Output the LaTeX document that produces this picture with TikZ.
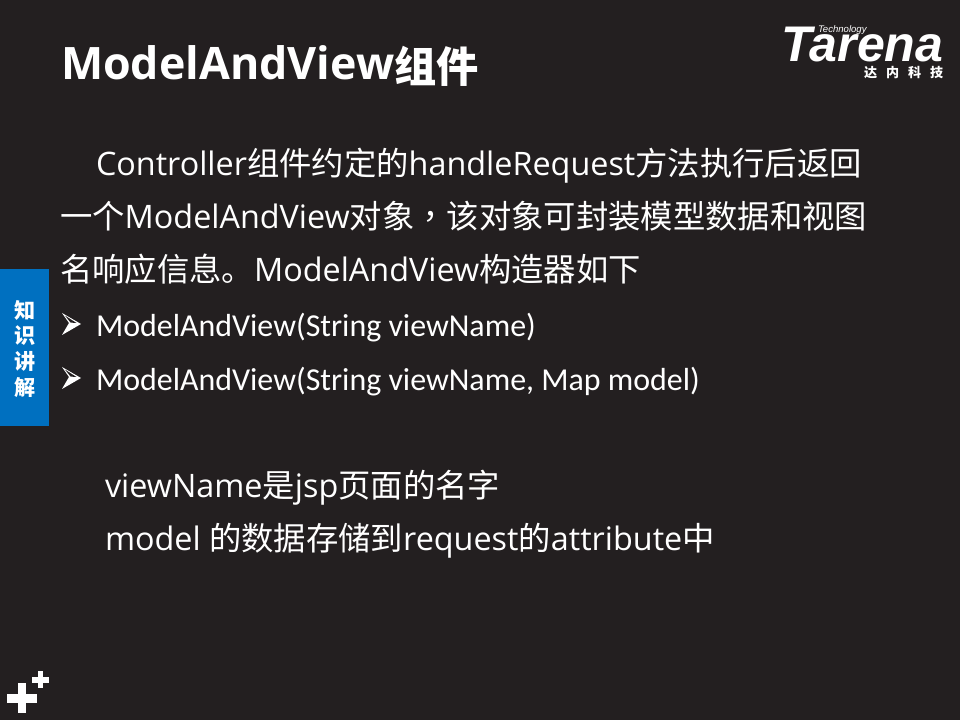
\documentclass[tikz,border=0pt]{standalone}
\usepackage{fontspec}
\setmainfont{Open Sans}
\newfontfamily\cjk{Noto Sans CJK SC}
\newfontfamily\cjkcomma{Noto Sans CJK TC}
\newfontfamily\bulletfont{Carlito}
\newfontfamily\logofont{Liberation Sans}
\newcommand{\zh}[1]{{\cjk #1}}
\definecolor{slidebg}{HTML}{231F20}
\definecolor{tabblue}{HTML}{0070C0}
\usetikzlibrary{positioning}

\begin{document}
\begin{tikzpicture}[
    x=0.025cm, y=-0.025cm,
    line/.style={anchor=base west, inner sep=0pt, outer sep=0pt, text=white},
    titleline/.style={line, font=\fontsize{31.8}{36}\selectfont\bfseries},
    bodyline/.style={line, font=\fontsize{23}{28}\selectfont},
    itemline/.style={line, font=\fontsize{22.7}{27}\bulletfont},
    tabtext/.style={inner sep=0pt, text=white, font=\fontsize{15}{17}\cjk\bfseries},
    plusbar/.style={fill=white, draw=none},
    itemmark/.pic={
        \fill[white] (0,0) -- (19,11) -- (0,22) -- (7,10) -- cycle;
        \fill[slidebg] (3,2.6) -- (14.5,10) -- (8.6,9.6) -- cycle;
    }
]
    \fill[slidebg] (0,0) rectangle (960,720);
    \path[use as bounding box] (0,0) rectangle (960,720);

    % title
    \node[titleline] (title) at (61,80) {ModelAndView\raisebox{-2pt}{\fontsize{30}{36}\cjk\bfseries 组件}};

    % logo
    \node[line, font=\fontsize{35.6}{40}\logofont\bfseries\itshape] (logo) at (781,62) {Tarena};
    \node[line, font=\fontsize{6.8}{8}\logofont\itshape] (logotop) at (818,33) {Technology};
    \node[line, font=\fontsize{9.3}{12}\cjk\bfseries] (logozh) at (864,78) {达\hspace{6.4pt}内\hspace{6.4pt}科\hspace{6.4pt}技};

    % side tab
    \fill[tabblue] (0,269) rectangle (49,426);
    \node[tabtext] (tab1) at (25,310) {知};
    \node[tabtext, below=3.9pt of tab1] (tab2) {识};
    \node[tabtext, below=3.9pt of tab2] (tab3) {讲};
    \node[tabtext, below=3.9pt of tab3] (tab4) {解};

    % paragraph
    \node[bodyline] (para1) at (96,176) {Controller\zh{组件约定的}handleRequest\zh{方法执行后返回}};
    \node[bodyline] (para2) at (60,229) {\zh{一个}ModelAndView\zh{对象}{\cjkcomma ，}\zh{该对象可封装模型数据和视图}};
    \node[bodyline] (para3) at (60,282) {\zh{名响应信息。}ModelAndView\zh{构造器如下}};

    % items
    \pic at (62,313) {itemmark};
    \node[itemline] (item1) at (96,337) {ModelAndView(String viewName)};
    \pic at (62,367) {itemmark};
    \node[itemline] (item2) at (96,391) {ModelAndView(String viewName, Map model)};

    % notes
    \node[bodyline] (note1) at (105,498) {viewName\zh{是}jsp\zh{页面的名字}};
    \node[bodyline] (note2) at (105,551) {model \zh{的数据存储到}request\zh{的}attribute\zh{中}};

    % plus marks
    \fill[plusbar] (7,694) rectangle (37,703);
    \fill[plusbar] (18,683) rectangle (26,713);
    \fill[plusbar] (32,677) rectangle (49,683);
    \fill[plusbar] (38,671) rectangle (43,688);
\end{tikzpicture}
\end{document}
